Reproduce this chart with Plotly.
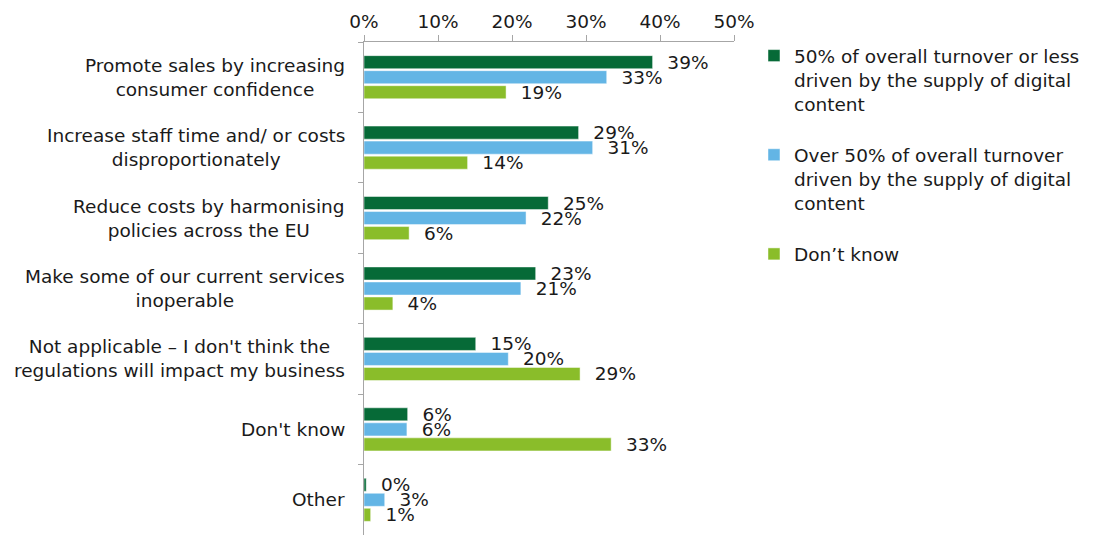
import plotly.graph_objects as go

categories = [
    "Promote sales by increasing<br>consumer confidence",
    "Increase staff time and/ or costs<br>disproportionately",
    "Reduce costs by harmonising<br>policies across the EU",
    "Make some of our current services<br>inoperable",
    "Not applicable – I don't think the<br>regulations will impact my business",
    "Don't know",
    "Other",
]
series_names = [
    "50% of overall turnover or less<br>driven by the supply of digital<br>content",
    "Over 50% of overall turnover<br>driven by the supply of digital<br>content",
    "Don’t know",
]
le50_values = [39.0, 29.0, 24.9, 23.2, 15.1, 5.9, 0.3]
gt50_values = [32.8, 30.9, 21.9, 21.2, 19.5, 5.8, 2.8]
dk_values = [19.2, 14.0, 6.1, 3.9, 29.2, 33.4, 0.9]
le50_labels = ["39%", "29%", "25%", "23%", "15%", "6%", "0%"]
gt50_labels = ["33%", "31%", "22%", "21%", "20%", "6%", "3%"]
dk_labels = ["19%", "14%", "6%", "4%", "29%", "33%", "1%"]
colors = ["#066A37", "#63B5E5", "#8ABD2A"]
x_ticks = [0, 10, 20, 30, 40, 50]
x_tick_labels = ["0%", "10%", "20%", "30%", "40%", "50%"]

FONT = "DejaVu Sans, Verdana, sans-serif"
FS = 18.5
NB = "\u00a0\u00a0"

fig = go.Figure()
for i, (vals, labs) in enumerate([(le50_values, le50_labels),
                                  (gt50_values, gt50_labels),
                                  (dk_values, dk_labels)]):
    fig.add_trace(go.Bar(
        y=categories, x=vals, orientation="h",
        name=series_names[i], legendgroup=f"g{i}",
        marker=dict(color=colors[i], line=dict(color="rgba(255,255,255,0.6)", width=0.8)),
        text=[NB + t for t in labs], textposition="outside",
        textfont=dict(family=FONT, size=FS, color="#1a1a1a"),
        constraintext="none", cliponaxis=False,
        hoverinfo="skip",
    ))

for c in categories:
    fig.add_annotation(
        x=0, xref="paper", y=c, yref="y", text=c, showarrow=False,
        xanchor="right", yanchor="middle", align="center", xshift=-17,
        font=dict(family=FONT, size=FS, color="#1a1a1a"),
    )

fig.update_layout(
    width=1102, height=536,
    margin=dict(l=364, r=368, t=42, b=1, autoexpand=False),
    paper_bgcolor="white", plot_bgcolor="white",
    barmode="group", bargap=0.36, bargroupgap=0.13,
    font=dict(family=FONT, size=FS, color="#1a1a1a"),
    showlegend=True,
    legend=dict(
        x=1.054, y=1.01, xanchor="left", yanchor="top",
        font=dict(family=FONT, size=FS, color="#1a1a1a"),
        tracegroupgap=24, traceorder="grouped", itemwidth=30, valign="top",
        bgcolor="rgba(0,0,0,0)",
    ),
)
fig.update_xaxes(
    side="top", range=[0, 50], tickvals=x_ticks, ticktext=x_tick_labels,
    showgrid=False, zeroline=False, showline=True, linecolor="#a6a6a6", linewidth=1,
    ticks="outside", ticklen=6, tickcolor="#a6a6a6",
    tickfont=dict(family=FONT, size=FS, color="#1a1a1a"),
    fixedrange=True,
)
fig.update_yaxes(
    autorange="reversed", showticklabels=False, showgrid=False, zeroline=False,
    showline=True, linecolor="#a6a6a6", linewidth=1,
    ticks="outside", ticklen=5, tickcolor="#a6a6a6", tickson="boundaries",
    fixedrange=True,
)

fig.write_html("out.html")
